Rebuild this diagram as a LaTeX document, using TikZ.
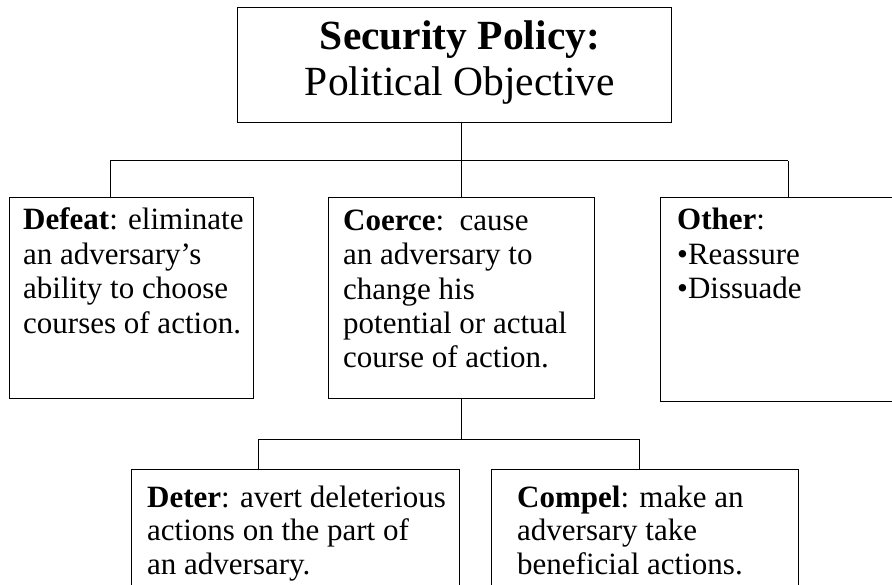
\documentclass[tikz,border=0pt]{standalone}
\usepackage{fontspec}
\setmainfont{Liberation Serif}
\begin{document}
\begin{tikzpicture}[x=1pt,y=-1pt,
  box/.style={draw, line width=1.4pt, inner sep=0pt, anchor=north west},
  link/.style={line width=1pt},
  body/.style={inner sep=0pt, anchor=base west, align=left, font=\fontsize{31}{34.5}\selectfont},
  lowbody/.style={body, font=\fontsize{31}{33.5}\selectfont},
  ttlstyle/.style={inner sep=0pt, anchor=base, align=center, font=\fontsize{41.5}{46}\selectfont}]
\useasboundingbox (0,0) rectangle (892,585);
% boxes
\node[box, minimum width=434pt, minimum height=115pt] (top) at (237,7) {};
\node[box, minimum width=244pt, minimum height=201pt] (defeat) at (9,197) {};
\node[box, minimum width=266pt, minimum height=201pt] (coerce) at (328,197) {};
\node[box, minimum width=250pt, minimum height=204pt] (other) at (660,197) {};
\node[box, minimum width=328pt, minimum height=130pt] (deter) at (131,469) {};
\node[box, minimum width=307pt, minimum height=130pt] (compel) at (491,469) {};
% connectors
\coordinate (j1) at (110,161);
\coordinate (j3) at (788,161);
\coordinate (k1) at (258,439);
\coordinate (k2) at (639,439);
\draw[link] (top.south -| coerce.north) -- (coerce.north);
\draw[link] (j1) -- (j3);
\draw[link] (j1) -- (j1 |- defeat.north);
\draw[link] (j3) -- (j3 |- other.north);
\draw[link] (coerce.south) -- (coerce.south |- k1);
\draw[link] (k1) -- (k2);
\draw[link] (k1) -- (k1 |- deter.north);
\draw[link] (k2) -- (k2 |- compel.north);
% texts (anchored on the baseline of their last line)
\node[ttlstyle] (ttl) at (460,96) {\textbf{Security Policy:}\\Political Objective};
\node[body] (tdef) at (23,333.5) {\textbf{Defeat}: eliminate\\an adversary’s\\ability to choose\\courses of action.};
\node[body] (tcoe) at (343,368) {\textbf{Coerce}:\ \ cause\\an adversary to\\change his\\potential or actual\\course of action.};
\node[body] (toth) at (677,299) {\textbf{Other}:\\•Reassure\\•Dissuade};
\node[lowbody] (tdet) at (147,574) {\textbf{Deter}: avert deleterious\\actions on the part of\\an adversary.};
\node[lowbody] (tcom) at (517,574) {\textbf{Compel}: make an\\adversary take\\beneficial actions.};
\end{tikzpicture}
\end{document}
